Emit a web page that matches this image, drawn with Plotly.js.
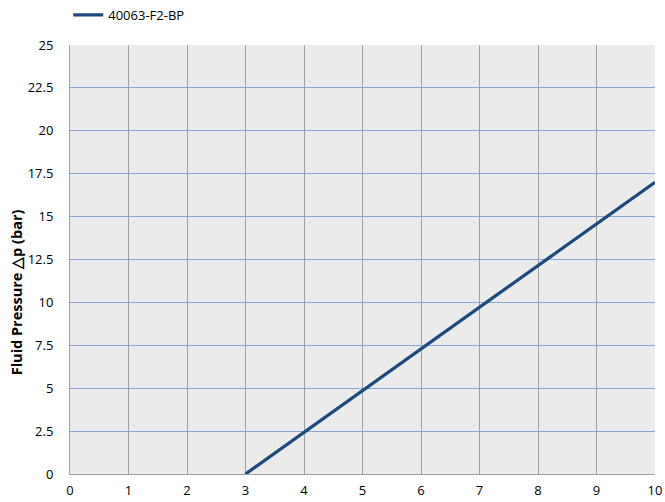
<!DOCTYPE html>
<html>
<head>
<meta charset="utf-8">
<script src="https://cdn.plot.ly/plotly-3.0.1.min.js"></script>
<style>html,body{margin:0;padding:0;background:#fff;}#chart{width:665px;height:502px;}</style>
</head>
<body>
<div id="chart"></div>
<script>
const seriesName = "40063-F2-BP";
const flowX = [3, 10];
const pressureY = [0, 17];
const xTicks = [0,1,2,3,4,5,6,7,8,9,10];
const yTicks = [0,2.5,5,7.5,10,12.5,15,17.5,20,22.5,25];
const yTickLabels = ["0","2.5","5","7.5","10","12.5","15","17.5","20","22.5","25"];
const yTitle = "Fluid Pressure \u25B3p (bar)";

const trace = {
  x: flowX, y: pressureY, type: "scatter", mode: "lines", name: seriesName,
  line: {color: "#1c4a7c", width: 3.2}
};
const layout = {
  width: 665, height: 502,
  margin: {l: 70, r: 10, t: 45, b: 28, autoexpand: false},
  paper_bgcolor: "#ffffff",
  plot_bgcolor: "#ebebeb",
  font: {family: "'Open Sans', sans-serif", size: 13, color: "#000"},
  showlegend: true,
  legend: {orientation: "h", x: -0.003, xanchor: "left", y: 1.035, yanchor: "bottom",
           font: {size: 13}, bgcolor: "rgba(0,0,0,0)", itemwidth: 30},
  xaxis: {range: [0, 10], tickvals: xTicks, ticktext: xTicks.map(String),
          showgrid: true, gridcolor: "#a0a0a0", gridwidth: 1,
          showline: true, linecolor: "#a0a0a0", zeroline: false,
          ticks: "", fixedrange: true, ticklabelstandoff: 4},
  yaxis: {range: [0, 25], tickvals: yTicks, ticktext: yTickLabels,
          showgrid: true, gridcolor: "#89a6d4", gridwidth: 1,
          showline: true, linecolor: "#a0a0a0", zeroline: false,
          ticks: "", ticklabelstandoff: 13},
  annotations: [{text: "<b>" + yTitle + "</b>", textangle: -90, xref: "paper", yref: "paper",
                 x: -0.092, y: 0.424, xanchor: "center", yanchor: "middle", showarrow: false,
                 font: {size: 14.5}}]
};
Plotly.newPlot("chart", [trace], layout, {displayModeBar: false, staticPlot: true});
</script>
</body>
</html>
